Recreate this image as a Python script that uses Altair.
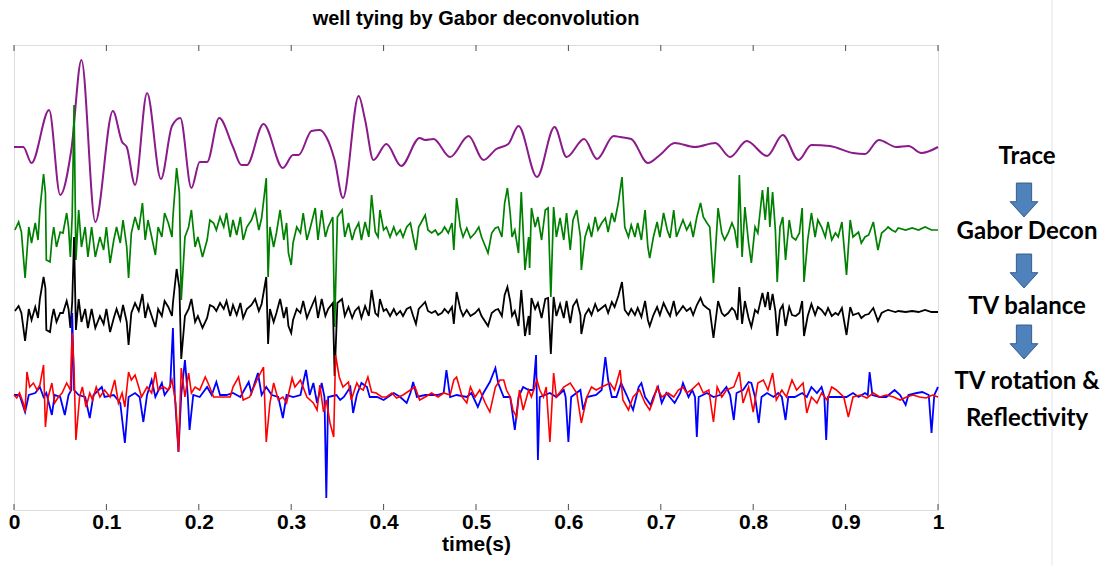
import altair as alt
import pandas as pd

# ---------------- data ----------------
# x tick values (time, s)
tick_values = [0, 0.1, 0.2, 0.3, 0.4, 0.5, 0.6, 0.7, 0.8, 0.9, 1.0]

# Trace (purple) - extrema of the smooth seismic trace
trace_t = [0.000, 0.010, 0.019, 0.038, 0.050, 0.062, 0.073, 0.088, 0.107, 0.117, 0.122, 0.131, 0.144, 0.159,
           0.171, 0.180, 0.192, 0.201, 0.209, 0.222, 0.237, 0.246, 0.252, 0.270, 0.291, 0.302, 0.308, 0.322,
           0.331, 0.338, 0.347, 0.356, 0.373, 0.380, 0.389, 0.403, 0.419, 0.439, 0.445, 0.454, 0.472, 0.492,
           0.508, 0.522, 0.535, 0.546, 0.566, 0.585, 0.598, 0.617, 0.631, 0.649, 0.656, 0.668, 0.686, 0.699,
           0.715, 0.737, 0.759, 0.775, 0.793, 0.815, 0.832, 0.849, 0.863, 0.883, 0.908, 0.921, 0.936, 0.955,
           0.968, 0.982, 1.000]
trace_a = [0, 0, -16, 37, -48, -3, 87, -75, 36, 5, 0, -38, 54, -32,
           21, 29, -41, -15, -15, 29, 0, -18, -18, 23, -21, -8, -8, 16,
           17, 10, -13, -51, 51, 27, -13, 3, -19, 9, 7, 8, -10, 11,
           -13, -2, 3, 21, -30, 20, -10, 8, -12, 11, 10, 8, -16, -8,
           4, 0, 4, -10, 6, -9, 12, -13, 2, 1, -6, -7, 7, 0,
           1, -6, 0]

# Gabor Decon (green) and TV balance (black), same time samples
decon_t = [0.001, 0.005, 0.008, 0.012, 0.016, 0.019, 0.023, 0.026, 0.028, 0.032, 0.034, 0.035, 0.039, 0.041,
           0.043, 0.046, 0.050, 0.053, 0.057, 0.059, 0.061, 0.063, 0.065, 0.067, 0.070, 0.073, 0.077, 0.080,
           0.084, 0.088, 0.093, 0.097, 0.100, 0.104, 0.108, 0.111, 0.115, 0.118, 0.122, 0.124, 0.127, 0.131,
           0.135, 0.139, 0.142, 0.145, 0.149, 0.153, 0.156, 0.160, 0.163, 0.167, 0.171, 0.172, 0.176, 0.179,
           0.181, 0.185, 0.189, 0.192, 0.196, 0.199, 0.204, 0.209, 0.212, 0.216, 0.219, 0.223, 0.227, 0.230,
           0.234, 0.237, 0.241, 0.245, 0.248, 0.252, 0.257, 0.261, 0.265, 0.268, 0.273, 0.275, 0.277, 0.281,
           0.284, 0.288, 0.292, 0.295, 0.297, 0.300, 0.302, 0.306, 0.310, 0.313, 0.317, 0.320, 0.326, 0.329,
           0.333, 0.337, 0.340, 0.345, 0.347, 0.350, 0.355, 0.358, 0.362, 0.366, 0.369, 0.373, 0.376, 0.380,
           0.384, 0.387, 0.391, 0.394, 0.396, 0.400, 0.403, 0.407, 0.411, 0.414, 0.418, 0.421, 0.425, 0.429,
           0.432, 0.435, 0.438, 0.441, 0.445, 0.448, 0.452, 0.456, 0.459, 0.463, 0.466, 0.470, 0.474, 0.476,
           0.479, 0.483, 0.486, 0.490, 0.494, 0.499, 0.503, 0.506, 0.513, 0.517, 0.521, 0.524, 0.528, 0.531,
           0.534, 0.537, 0.539, 0.542, 0.546, 0.549, 0.553, 0.557, 0.558, 0.560, 0.564, 0.567, 0.571, 0.575,
           0.578, 0.581, 0.584, 0.587, 0.591, 0.595, 0.598, 0.602, 0.605, 0.609, 0.613, 0.614, 0.618, 0.622,
           0.625, 0.629, 0.632, 0.636, 0.640, 0.643, 0.647, 0.650, 0.654, 0.658, 0.661, 0.665, 0.668, 0.672,
           0.675, 0.679, 0.683, 0.686, 0.688, 0.692, 0.696, 0.699, 0.703, 0.707, 0.710, 0.714, 0.717, 0.721,
           0.724, 0.728, 0.732, 0.735, 0.739, 0.743, 0.746, 0.750, 0.753, 0.757, 0.762, 0.766, 0.769, 0.773,
           0.777, 0.780, 0.783, 0.785, 0.788, 0.791, 0.795, 0.798, 0.802, 0.805, 0.810, 0.813, 0.816, 0.818,
           0.821, 0.824, 0.826, 0.829, 0.832, 0.835, 0.839, 0.842, 0.846, 0.850, 0.853, 0.855, 0.859, 0.863,
           0.867, 0.870, 0.874, 0.878, 0.881, 0.885, 0.889, 0.892, 0.896, 0.901, 0.905, 0.908, 0.914, 0.917,
           0.921, 0.925, 0.930, 0.935, 0.939, 0.943, 0.946, 0.950, 0.954, 0.957, 0.965, 0.972, 0.979, 0.986,
           0.993, 1.000]
gabor_a = [1, 9, -1, -47, 4, -12, 8, -9, 21, 57, 38, -29, -31, -9,
           4, -16, -1, -2, 18, 4, -26, 16, 126, -29, 21, -16, 4, -26,
           4, -26, -6, -19, 4, -32, -9, 4, -12, 11, -16, -47, -2, 14,
           1, 28, -9, 11, -6, -24, 4, -6, 18, 8, -6, 14, 63, 38,
           -69, -6, 4, 21, -16, -6, -26, -9, 11, 8, 1, 14, 4, 18,
           -6, 11, -4, 14, -9, 4, 11, 21, 1, 13, 53, -46, 4, -16,
           -2, 21, -9, 8, -22, -34, -12, 4, -2, 18, -9, 1, 23, -9,
           21, -6, 4, 14, -96, 14, 21, -6, 8, -9, 1, 8, -9, 9,
           -6, 36, -1, -6, 21, 1, 4, -6, 4, -4, 1, -6, 4, 8,
           -6, -19, 4, 9, 16, 1, -2, 1, -4, -1, 4, -2, 8, -19,
           33, 4, -6, 3, -7, -2, 4, -6, -22, -2, 3, 4, -6, 28,
           43, 18, -6, 1, -22, 39, -39, -6, -37, 23, 4, 14, -9, 21,
           23, -66, 24, -6, 13, -9, 18, -19, 11, 21, -6, -39, -6, 6,
           -6, 14, 1, 8, 13, -1, 18, 9, 28, 54, 4, -6, 6, -6,
           8, -9, 21, -16, -27, -6, 9, -6, 18, 1, -7, 21, -6, 4,
           11, 1, 8, -6, 14, 28, 14, 8, 4, -52, 23, -2, -9, -2,
           8, 1, -17, 56, -26, 24, -12, -32, 4, -2, 41, 11, 44, 4,
           39, 1, -51, 4, 14, -29, 11, -6, -9, -2, 23, -51, -9, 18,
           -6, 11, 4, -6, 9, -9, -2, -6, 9, -44, 11, -6, -1, -12,
           -6, -4, 9, -19, -2, 1, 4, 1, -1, 3, 1, 3, 1, 4,
           1, 1]
balance_a = [1, 6, -1, -29, 3, -8, 5, -6, 13, 35, 24, -18, -20, -6,
             3, -10, -1, -1, 11, 3, -16, 10, 75, -18, 13, -10, 3, -16,
             3, -16, -4, -12, 3, -20, -6, 3, -8, 7, -10, -33, -1, 9,
             1, 18, -6, 7, -4, -15, 3, -4, 11, 5, -4, 9, 43, 24,
             -47, -4, 3, 13, -10, -4, -16, -6, 7, 5, 1, 9, 3, 11,
             -4, 7, -3, 9, -6, 3, 7, 13, 1, 8, 35, -32, 3, -10,
             -1, 13, -6, 5, -14, -21, -8, 3, -1, 11, -6, 1, 14, -6,
             13, -4, 3, 9, -64, 9, 13, -4, 5, -6, 1, 5, -6, 6,
             -4, 22, -1, -4, 13, 1, 3, -4, 3, -3, 1, -4, 3, 5,
             -4, -12, 3, 6, 10, 1, -1, 1, -3, -1, 3, -1, 5, -12,
             20, 3, -4, 2, -4, -1, 3, -4, -14, -1, 2, 3, -4, 17,
             25, 11, -4, 1, -14, 22, -24, -4, -23, 14, 3, 9, -6, 13,
             14, -42, 15, -4, 8, -6, 11, -11, 6, 12, -3, -22, -3, 3,
             -3, 8, 1, 4, 7, -1, 10, 5, 16, 30, 2, -3, 3, -3,
             4, -5, 11, -8, -14, -3, 5, -3, 9, 1, -4, 11, -3, 2,
             6, 1, 4, -3, 7, 14, 7, 4, 2, -26, 11, -1, -4, -1,
             4, 1, -8, 25, -12, 11, -6, -15, 2, -1, 19, 5, 20, 2,
             18, 1, -24, 2, 7, -14, 5, -3, -4, -1, 11, -24, -4, 8,
             -3, 5, 2, -3, 4, -4, -1, -3, 4, -23, 5, -3, -1, -6,
             -3, -2, 4, -9, -1, 1, 2, 1, 0, 1, 0, 1, 0, 2,
             0, 0]

# Reflectivity (blue)
refl_t = [0.000, 0.006, 0.012, 0.016, 0.023, 0.028, 0.032, 0.035, 0.041, 0.044, 0.050, 0.055, 0.059, 0.062,
          0.063, 0.065, 0.070, 0.077, 0.082, 0.086, 0.095, 0.098, 0.108, 0.115, 0.120, 0.124, 0.131, 0.136,
          0.140, 0.144, 0.149, 0.153, 0.160, 0.163, 0.169, 0.172, 0.174, 0.178, 0.181, 0.185, 0.188, 0.190,
          0.194, 0.201, 0.209, 0.214, 0.219, 0.223, 0.230, 0.237, 0.245, 0.254, 0.257, 0.264, 0.268, 0.273,
          0.279, 0.286, 0.291, 0.295, 0.302, 0.310, 0.316, 0.320,
          0.324, 0.328, 0.333, 0.336, 0.338, 0.340, 0.349, 0.353, 0.357, 0.364, 0.367, 0.371, 0.376, 0.382,
          0.385, 0.393, 0.400, 0.411, 0.418, 0.425, 0.429, 0.432, 0.436, 0.445, 0.458, 0.465, 0.468, 0.472,
          0.479, 0.490, 0.495, 0.502, 0.508, 0.515, 0.521, 0.524, 0.530, 0.537, 0.542, 0.546, 0.551, 0.557,
          0.562, 0.565, 0.567, 0.569, 0.580, 0.587, 0.595, 0.597, 0.600, 0.603, 0.613, 0.616, 0.620, 0.630,
          0.636, 0.640, 0.643, 0.647, 0.652, 0.657, 0.663,
          0.670, 0.676, 0.679, 0.683, 0.689, 0.692, 0.697, 0.701, 0.706, 0.715, 0.721, 0.724, 0.730, 0.734,
          0.737, 0.739, 0.741, 0.750, 0.757, 0.764, 0.771, 0.775, 0.779, 0.782, 0.789, 0.795, 0.798, 0.802,
          0.806, 0.809, 0.815, 0.822, 0.827, 0.831, 0.835, 0.838, 0.845, 0.853, 0.858, 0.863, 0.869, 0.874,
          0.877, 0.879, 0.881, 0.890, 0.901, 0.908, 0.914, 0.921, 0.924, 0.926, 0.929, 0.937, 0.944, 0.953,
          0.959, 0.965, 0.968, 0.977, 0.983, 0.990, 0.993, 0.996, 1.000]
refl_a = [0, 0, -17, 0, 2, 8, -2, 2, -20, 0, -2, -20, 0, 5,
          82, 5, 0, -2, -23, 0, 8, -2, 0, -8, -48, -2, 2, -2,
          -27, 0, 15, -2, 12, 0, 8, 67, 0, -57, 0, 35, 0, -35,
          0, -2, 8, 0, 13, 0, 0, 2, -2, 13, 2, 22, 0, 8,
          0, -2, -23, 0, -2, 0, 25, 0,
          12, -8, 12, -2, -103, -2, 0, -5, -2, 8, -18, 0, 12, 8,
          -2, -2, -5, 2, -2, -8, 2, 13, -2, 0, 0, 2, 25, -2,
          0, -2, 2, -12, 2, 13, 27, 12, -2, -2, -35, -2, 8, 5,
          5, 40, -65, -2, 2, -2, 5, -2, -47, -2, 5, -15, -2, 0,
          5, 38, 15, -2, -2, 12, 0,
          -15, 8, 12, -2, -10, -2, 8, -8, 2, -8, 2, 12, -2, 5,
          -2, -42, -2, 2, -2, 0, 8, 0, -25, 2, 5, 13, 12, -2,
          -28, -2, 2, -2, 2, -2, -25, -2, -2, 2, -2, 8, 2, 8,
          -2, -45, -2, -2, -2, 2, -2, 2, 0, 23, 0, -2, -2, 5,
          0, -10, 0, 2, 3, 0, -38, 0, 8]

# TV rotation (red)
rot_t = [0.000, 0.003, 0.006, 0.010, 0.012, 0.014, 0.017, 0.021, 0.025, 0.028, 0.032, 0.034, 0.037, 0.041,
         0.044, 0.048, 0.052, 0.057, 0.061, 0.063, 0.065, 0.067, 0.071, 0.074, 0.078, 0.082, 0.085, 0.089,
         0.093, 0.098, 0.104, 0.109, 0.113, 0.117, 0.120, 0.124, 0.127, 0.131, 0.135, 0.138, 0.144, 0.149,
         0.153, 0.156, 0.162, 0.167, 0.171, 0.175, 0.178, 0.181, 0.185, 0.189, 0.192, 0.196, 0.201, 0.207,
         0.210, 0.216, 0.221, 0.228, 0.234, 0.237, 0.243, 0.248, 0.255, 0.263, 0.270, 0.273, 0.277, 0.281,
         0.286, 0.291, 0.295, 0.301, 0.304, 0.310, 0.317, 0.324,
         0.328, 0.331, 0.335, 0.338, 0.342, 0.346, 0.348, 0.352, 0.356, 0.362, 0.365, 0.371, 0.374, 0.378,
         0.383, 0.387, 0.392, 0.398, 0.403, 0.409, 0.414, 0.421, 0.429, 0.434, 0.439, 0.445, 0.452, 0.459,
         0.465, 0.472, 0.476, 0.479, 0.485, 0.490, 0.494, 0.499, 0.504, 0.510, 0.515, 0.521, 0.526, 0.530,
         0.533, 0.537, 0.540, 0.544, 0.547, 0.551, 0.557, 0.560, 0.566, 0.569, 0.573, 0.576, 0.580, 0.584,
         0.587, 0.595, 0.602, 0.609, 0.614, 0.620, 0.625, 0.630, 0.636, 0.645, 0.650, 0.656, 0.659,
         0.665, 0.670, 0.677, 0.683, 0.688, 0.692, 0.696, 0.701, 0.708, 0.714, 0.719, 0.724, 0.728, 0.733,
         0.741, 0.746, 0.752, 0.757, 0.761, 0.766, 0.771, 0.779, 0.785, 0.789, 0.795, 0.800, 0.805, 0.811,
         0.816, 0.821, 0.825, 0.831, 0.836, 0.842, 0.847, 0.854, 0.858, 0.863, 0.869, 0.874, 0.880, 0.885,
         0.890, 0.898, 0.903, 0.908, 0.916, 0.923, 0.930, 0.937, 0.944, 0.952, 0.959, 0.966, 0.973, 0.980,
         0.987, 0.994, 1.000]
rot_a = [0, -3, 2, -8, -17, 23, 8, 12, 5, 10, 30, -32, -2, 12,
         -8, -2, 2, 12, 5, 62, 25, -45, -2, 8, -12, 2, -5, 8,
         -2, 5, -2, 15, -8, 2, -12, 23, 15, 20, 8, -2, 8, 2,
         23, 5, 8, 5, 15, -8, -57, 27, -2, 22, 2, 8, 5, 18,
         12, -2, -2, -2, -2, 8, 18, -5, -2, 15, 28, -47, -8, 12,
         -5, -2, -8, 17, 8, 15, -2, -8,
         -15, 10, -17, -5, -28, -42, 40, 18, 8, 13, -5, 12, 7, 5,
         18, 3, 2, -2, -2, 2, -3, 0, 5, 8, -5, -2, 2, -2,
         2, 0, 15, 18, -2, -8, 8, -2, 5, -8, -17, 8, 15, 15,
         5, -2, -15, -22, 5, -15, 5, -2, 15, 5, -2, 8, -47, 22,
         -2, 8, 12, 2, -28, -2, 8, 5, 8, 12, 5, 25, -5,
         -15, -2, 5, -8, -15, -5, 8, -2, 2, -2, 5, 8, 2, 5,
         12, 2, 5, -27, 8, -2, 5, 8, 23, -8, 8, -17, 12, 15,
         5, 22, -5, 5, -2, 15, 5, 12, -18, -2, -8, 2, -5, 8,
         5, -2, -22, -2, 0, -3, 2, -2, 0, -2, -5, -2, 0, -2,
         -3, 0, -2]

# vertical offsets of the stacked traces (plot units, bottom = 0, top = 465)
baseline = {"trace": 363, "gabor": 279, "balance": 198, "refl": 115}

# texts
chart_title = "well tying by Gabor deconvolution"
step_labels = ["Trace", "Gabor Decon", "TV balance", "TV rotation &", "Reflectivity"]


def series(ts, amps, base):
    rows = [(t, base + a) for t, a in zip(ts, amps)]
    return pd.DataFrame(rows, columns=["t", "v"])


FONT = "Liberation Sans"
x_enc = alt.X(
    "t:Q",
    scale=alt.Scale(domain=[0, 1], nice=False, zero=False),
    axis=alt.Axis(values=tick_values, format="~g", title="time(s)", ticks=False, domain=False,
                  grid=False, labelFlush=False, labelOverlap=False, labelPadding=1,
                  labelFont=FONT, labelFontSize=21, labelFontWeight="bold", labelColor="black",
                  titleFont=FONT, titleFontSize=21, titleFontWeight="bold", titleColor="black",
                  titlePadding=1),
)
y_enc = alt.Y("v:Q", scale=alt.Scale(domain=[0, 465], nice=False, zero=False), axis=None)


def trace_layer(df, color, width, interp="linear"):
    return alt.Chart(df).mark_line(color=color, strokeWidth=width, interpolate=interp).encode(x=x_enc, y=y_enc)


purple = trace_layer(series(trace_t, trace_a, baseline["trace"]), "#8B1A8B", 2.0, "monotone")
green = trace_layer(series(decon_t, gabor_a, baseline["gabor"]), "#008000", 1.7)
black = trace_layer(series(decon_t, balance_a, baseline["balance"]), "#000000", 1.8)
blue = trace_layer(series(refl_t, refl_a, baseline["refl"]), "#0000FF", 1.8)
red = trace_layer(series(rot_t, rot_a, baseline["refl"]), "#FF0000", 1.6)

tick_df = pd.DataFrame({"t": tick_values})
ticks_bottom = alt.Chart(tick_df).mark_rule(color="#4d4d4d", strokeWidth=1).encode(
    x=x_enc, y=alt.value(465), y2=alt.value(459))
ticks_top = alt.Chart(tick_df).mark_rule(color="#4d4d4d", strokeWidth=1).encode(
    x=x_enc, y=alt.value(0), y2=alt.value(6))

one = pd.DataFrame({"k": [0]})

title_mark = alt.Chart(one).mark_text(font=FONT, fontSize=20, fontWeight="bold", color="black",
                                      align="center", baseline="middle").encode(
    x=alt.value(462), y=alt.value(-26), text=alt.value(chart_title))

text_y = [112, 187, 262, 337, 374]
labels = [
    alt.Chart(one).mark_text(font="Lato", fontSize=24, fontWeight="bold", color="black",
                             align="center", baseline="middle").encode(
        x=alt.value(1013), y=alt.value(yy), text=alt.value(lab))
    for lab, yy in zip(step_labels, text_y)
]

ARROW = "M -0.45 -1 L 0.45 -1 L 0.45 0.1 L 0.82 0.1 L 0 1 L -0.82 0.1 L -0.45 0.1 Z"
arrows = [
    alt.Chart(one).mark_point(shape=ARROW, size=1150, filled=True, fill="#4F81BD", stroke="#385D8A",
                              strokeWidth=1, opacity=1).encode(x=alt.value(1010), y=alt.value(yy))
    for yy in [155, 226, 297]
]

edge = alt.Chart(one).mark_rule(color="#e4e4e4", strokeWidth=1).encode(
    x=alt.value(1038), y=alt.value(-45), y2=alt.value(520))

chart = alt.layer(
    edge, purple, green, black, blue, red, ticks_bottom, ticks_top, title_mark, *labels, *arrows
).properties(
    width=924,
    height=465,
    autosize=alt.AutoSizeParams(type="none"),
    padding={"left": 14, "top": 45, "right": 170, "bottom": 55},
).configure_view(stroke="#555555", strokeWidth=1).configure(background="white")

chart.save("out.html", embed_options={"renderer": "svg", "actions": False})
